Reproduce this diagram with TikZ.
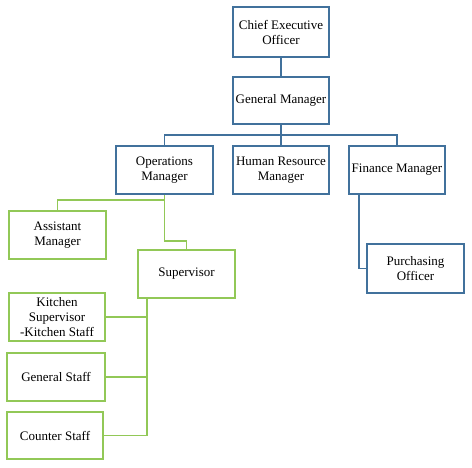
\documentclass[tikz,border=0pt]{standalone}
\usepackage{fontspec}
\setmainfont{Liberation Serif}
\definecolor{bblue}{HTML}{41719C}
\definecolor{bgreen}{HTML}{92C857}
\begin{document}
\begin{tikzpicture}[x=1pt,y=-1pt,
  box/.style={draw, line width=1.8pt, minimum width=#1, minimum height=48pt, inner sep=0pt, align=center,
    font=\fontsize{13}{15}\selectfont, fill=white},
  box/.default=97pt,
  bl/.style={draw=bblue},
  gr/.style={draw=bgreen},
  bline/.style={bblue, line width=1.8pt},
  gline/.style={bgreen, line width=1.8pt}]
\useasboundingbox (0,0) rectangle (472,468);
% blue part
\node[box=96pt, bl, minimum height=50pt] (ceo) at (281,32) {Chief Executive\\Officer};
\node[box=96pt, bl, minimum height=47pt] (gm) at (281,100.5) {General Manager};
\node[box=97pt, bl] (ops) at (164.5,170) {Operations\\Manager};
\node[box=96pt, bl] (hr) at (281,170) {Human Resource\\Manager};
\node[box=96pt, bl] (fin) at (397,170) {Finance Manager};
\node[box=97pt, bl, minimum height=49pt] (pur) at (415.5,268.5) {Purchasing\\Officer};
% green part
\node[box=97pt, gr] (asst) at (57.5,235) {Assistant\\Manager};
\node[box=97pt, gr] (sup) at (186.5,274) {Supervisor};
\node[box=96pt, gr] (kit) at (57,317) {Kitchen\\Supervisor\\-Kitchen Staff};
\node[box=98pt, gr] (gen) at (56,377) {General Staff};
\node[box=96pt, gr, minimum height=47pt] (cnt) at (55,435.5) {Counter Staff};
% connectors
\coordinate (bus) at (281,135);
\coordinate (fv) at (359,194);
\coordinate (oa) at (164.5,200);
\coordinate (os) at (164.5,241);
\coordinate (sv) at (147,298);
\begin{scope}[on background layer/.try]
\end{scope}
\draw[bline] (ceo.south) -- (gm.north);
\draw[bline] (gm.south) -- (hr.north);
\draw[bline] (ops.north) |- (bus) -| (fin.north);
\draw[bline] (fv) |- (pur.west);
\draw[gline] (ops.south) -- (oa) -| (asst.north);
\draw[gline] (oa) -- (os) -| (sup.north);
\draw[gline] (sv) |- (kit.east);
\draw[gline] (sv) |- (gen.east);
\draw[gline] (sv) |- (cnt.east);
\end{tikzpicture}
\end{document}
